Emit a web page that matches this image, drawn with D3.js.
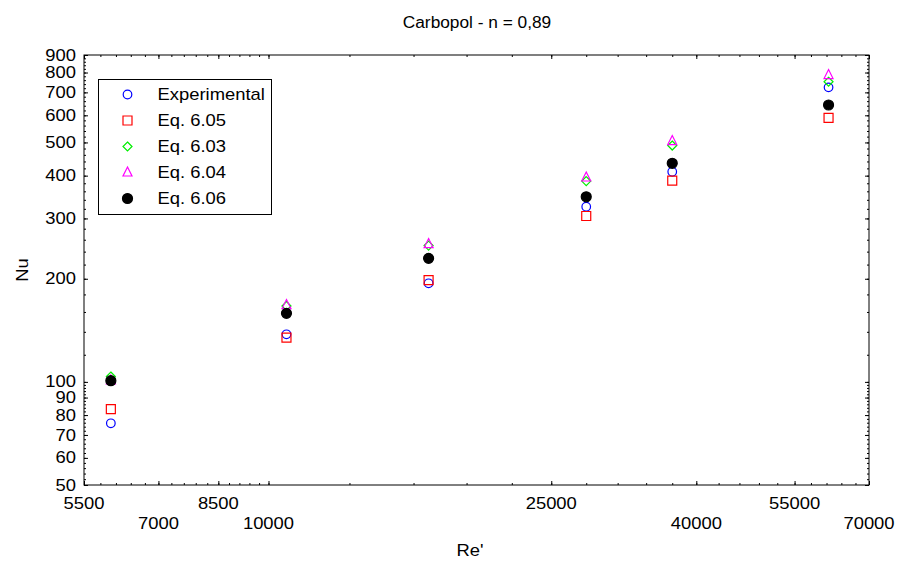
<!DOCTYPE html>
<html>
<head>
<meta charset="utf-8">
<script src="https://cdn.jsdelivr.net/npm/d3@7"></script>
<style>
  body { margin: 0; background: #fff; }
  text { font-family: 'Liberation Sans', Arial, sans-serif; fill: #000; }
</style>
</head>
<body>
<svg id="chart"></svg>
<script>
// Re' values for each run
const re = [6000, 10600, 16800, 28000, 37000, 61400];

// Nu series
const experimental = [75.7, 137.7, 194, 324.6, 410.6, 724];
const eq605 = [83.3, 134.6, 198.3, 305, 386.6, 590];
const eq603 = [103.7, 166.5, 250, 385.6, 489.7, 752];
const eq604 = [101, 167.6, 252.6, 395, 504.7, 786.6];
const eq606 = [100.8, 158.5, 229.4, 347, 434.6, 643];

const seriesNames = ['Experimental', 'Eq. 6.05', 'Eq. 6.03', 'Eq. 6.04', 'Eq. 6.06'];

// tick labels
const xTickLabels = [5500, 7000, 8500, 10000, 25000, 40000, 55000, 70000];
const yTickLabels = [50, 60, 70, 80, 90, 100, 200, 300, 400, 500, 600, 700, 800, 900];

const svgWidth = 897;
const svgHeight = 565;

const svg = d3.select('#chart')
  .attr('width', svgWidth)
  .attr('height', svgHeight);

const margin = {
  top: 55, right: 28, bottom: 80, left: 84,
};
const width = svgWidth - margin.left - margin.right;
const height = svgHeight - margin.top - margin.bottom;
const g = svg.append('g').attr('transform', `translate(${margin.left}, ${margin.top})`);

const x = d3.scaleLog().domain([5500, 70000]).range([0, width]);
const y = d3.scaleLog().domain([50, 900]).range([height, 0]);

const xMinor = d3.range(5500, 10000, 300).concat(d3.range(10000, 70001, 3000));
const yMinor = d3.range(50, 100, 2).concat(d3.range(100, 901, 20));

// the original text is a little wide, so glyphs get stretched sideways
const labelSize = 16;
const titleSize = 17.3;
const stretch = 'scale(1.15,1)';

// minor + major ticks, pointing inward on all four sides
function ticks(axisFn, scale, values, size, transform) {
  g.append('g')
    .attr('transform', transform)
    .call(axisFn(scale).tickValues(values).tickSize(size).tickFormat(''))
    .call(a => a.select('.domain').remove());
}
ticks(d3.axisBottom, x, xMinor, -2, `translate(0,${height})`);
ticks(d3.axisBottom, x, xTickLabels, -4, `translate(0,${height})`);
ticks(d3.axisTop, x, xMinor, -2, 'translate(0,0)');
ticks(d3.axisTop, x, xTickLabels, -4, 'translate(0,0)');
ticks(d3.axisLeft, y, yMinor, -2, 'translate(0,0)');
ticks(d3.axisLeft, y, yTickLabels, -4, 'translate(0,0)');
ticks(d3.axisRight, y, yMinor, -2, `translate(${width},0)`);
ticks(d3.axisRight, y, yTickLabels, -4, `translate(${width},0)`);

// frame
g.append('rect')
  .attr('width', width)
  .attr('height', height)
  .attr('fill', 'none')
  .attr('stroke', '#000')
  .attr('stroke-width', 1);

// x tick labels, staggered on two rows
g.append('g')
  .attr('font-size', labelSize)
  .attr('text-anchor', 'middle')
  .selectAll('text')
  .data(xTickLabels)
  .enter()
  .append('text')
  .attr('transform', (d, i) => `translate(${x(d)},${height + (i % 2 === 0 ? 18 : 38)}) ${stretch}`)
  .attr('dy', '0.35em')
  .text(d => d);

// y tick labels
g.append('g')
  .attr('font-size', labelSize)
  .attr('text-anchor', 'end')
  .selectAll('text')
  .data(yTickLabels)
  .enter()
  .append('text')
  .attr('transform', d => `translate(-8,${y(d)}) ${stretch}`)
  .attr('dy', '0.35em')
  .text(d => d);

// markers
const circle = { draw(ctx) { ctx.arc(0, 0, 4.3, 0, 2 * Math.PI); } };
const dot = { draw(ctx) { ctx.arc(0, 0, 5, 0, 2 * Math.PI); } };
const square = { draw(ctx) { ctx.rect(-4.5, -4.5, 9, 9); } };
const diamond = {
  draw(ctx) {
    ctx.moveTo(0, -4.5); ctx.lineTo(4.5, 0); ctx.lineTo(0, 4.5); ctx.lineTo(-4.5, 0); ctx.closePath();
  },
};
const triangle = {
  draw(ctx) {
    ctx.moveTo(0, -5.5); ctx.lineTo(4.5, 3.5); ctx.lineTo(-4.5, 3.5); ctx.closePath();
  },
};

const series = [
  { name: seriesNames[0], values: experimental, type: circle, stroke: '#0000ff', fill: 'none' },
  { name: seriesNames[1], values: eq605, type: square, stroke: '#ff0000', fill: 'none' },
  { name: seriesNames[2], values: eq603, type: diamond, stroke: '#00ee00', fill: 'none' },
  { name: seriesNames[3], values: eq604, type: triangle, stroke: '#ff00ff', fill: 'none' },
  { name: seriesNames[4], values: eq606, type: dot, stroke: '#000', fill: '#000' },
];

series.forEach((s) => {
  g.append('g')
    .selectAll('path')
    .data(s.values.map((v, i) => [re[i], v]))
    .enter()
    .append('path')
    .attr('transform', d => `translate(${x(d[0])},${y(d[1])})`)
    .attr('d', d3.symbol().type(s.type))
    .attr('fill', s.fill)
    .attr('stroke', s.stroke)
    .attr('stroke-width', 1.2);
});

// legend
const legendBox = svg.append('g').attr('transform', 'translate(98.5,79.5)');
legendBox.append('rect')
  .attr('width', 173)
  .attr('height', 135)
  .attr('fill', '#fff')
  .attr('stroke', '#000');

const legend = legendBox.selectAll('g.item')
  .data(series)
  .enter()
  .append('g')
  .attr('class', 'item')
  .attr('transform', (d, i) => `translate(0,${15 + 26 * i})`);

legend.append('path')
  .attr('transform', 'translate(29,0)')
  .attr('d', d => d3.symbol().type(d.type)())
  .attr('fill', d => d.fill)
  .attr('stroke', d => d.stroke)
  .attr('stroke-width', 1.2);

legend.append('text')
  .attr('transform', `translate(59,0) ${stretch}`)
  .attr('dy', '0.35em')
  .attr('font-size', labelSize)
  .text(d => d.name);

// title and axis titles
svg.append('text')
  .attr('x', 477)
  .attr('y', 22)
  .attr('dy', '0.35em')
  .attr('text-anchor', 'middle')
  .attr('font-size', titleSize)
  .text('Carbopol - n = 0,89');

svg.append('text')
  .attr('transform', `translate(470,550) ${stretch}`)
  .attr('dy', '0.35em')
  .attr('text-anchor', 'middle')
  .attr('font-size', labelSize)
  .text("Re'");

svg.append('text')
  .attr('transform', `translate(22,${margin.top + height / 2}) rotate(-90) ${stretch}`)
  .attr('dy', '0.35em')
  .attr('text-anchor', 'middle')
  .attr('font-size', labelSize)
  .text('Nu');
</script>
</body>
</html>
